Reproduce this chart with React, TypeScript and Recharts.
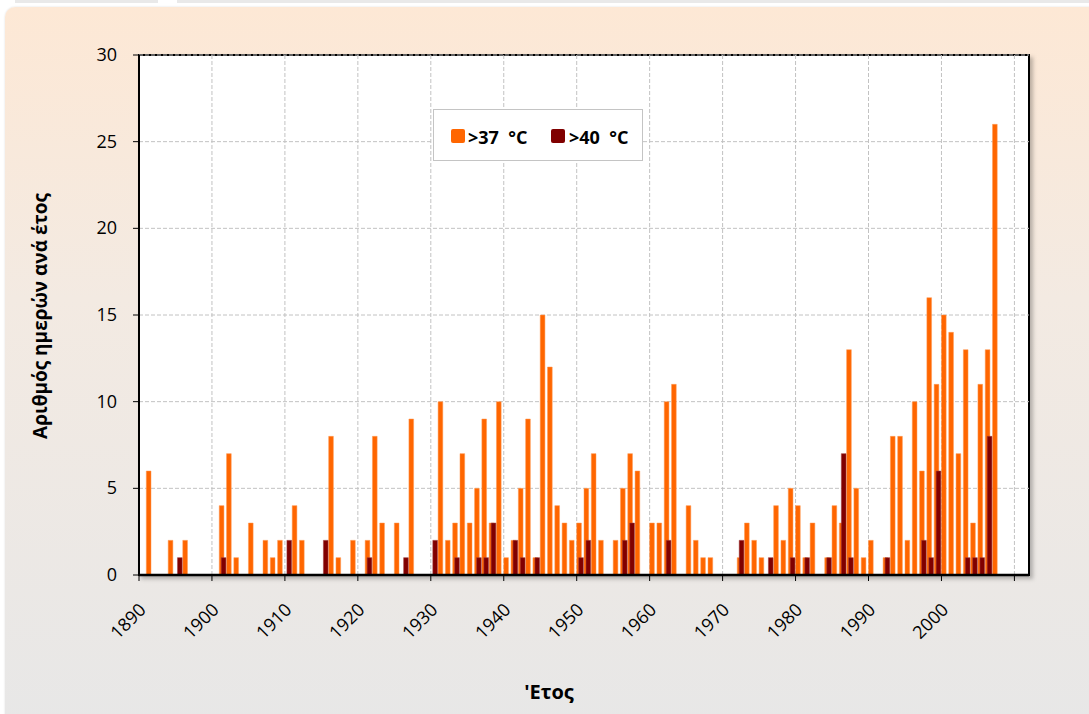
import React from 'react';
import { BarChart, Bar, XAxis, YAxis, CartesianGrid, Legend, Label } from 'recharts';

const START_YEAR = 1890;

// Number of days per year with Tmax > 37 °C (1890 ... 2011)
const over37: number[] = [
  0, 6, 0, 0, 2, 0, 2, 0, 0, 0, // 1890s
  0, 4, 7, 1, 0, 3, 0, 2, 1, 2, // 1900s
  0, 4, 2, 0, 0, 0, 8, 1, 0, 2, // 1910s
  0, 2, 8, 3, 0, 3, 0, 9, 0, 0, // 1920s
  0, 10, 2, 3, 7, 3, 5, 9, 3, 10, // 1930s
  1, 2, 5, 9, 1, 15, 12, 4, 3, 2, // 1940s
  3, 5, 7, 2, 0, 2, 5, 7, 6, 0, // 1950s
  3, 3, 10, 11, 0, 4, 2, 1, 1, 0, // 1960s
  0, 0, 1, 3, 2, 1, 0, 4, 2, 5, // 1970s
  4, 1, 3, 0, 1, 4, 3, 13, 5, 1, // 1980s
  2, 0, 1, 8, 8, 2, 10, 6, 16, 11, // 1990s
  15, 14, 7, 13, 3, 11, 13, 26, 0, 0, // 2000s
  0, 0, // 2010s
];

// Number of days per year with Tmax > 40 °C (1890 ... 2011)
const over40: number[] = [
  0, 0, 0, 0, 0, 1, 0, 0, 0, 0,
  0, 1, 0, 0, 0, 0, 0, 0, 0, 0,
  2, 0, 0, 0, 0, 2, 0, 0, 0, 0,
  0, 1, 0, 0, 0, 0, 1, 0, 0, 0,
  2, 0, 0, 1, 0, 0, 1, 1, 3, 0,
  0, 2, 1, 0, 1, 0, 0, 0, 0, 0,
  1, 2, 0, 0, 0, 0, 2, 3, 0, 0,
  0, 0, 2, 0, 0, 0, 0, 0, 0, 0,
  0, 0, 2, 0, 0, 0, 1, 0, 0, 1,
  0, 1, 0, 0, 1, 0, 7, 1, 0, 0,
  0, 0, 1, 0, 0, 0, 0, 2, 1, 6,
  0, 0, 0, 1, 1, 1, 8, 0, 0, 0,
  0, 0,
];

// tick marks / grid lines every decade; labels only up to 2000 (as in the original)
const yearTicks = [1890, 1900, 1910, 1920, 1930, 1940, 1950, 1960, 1970, 1980, 1990, 2000, 2010];
const yearLabels = [1890, 1900, 1910, 1920, 1930, 1940, 1950, 1960, 1970, 1980, 1990, 2000];
const yTicks = [0, 5, 10, 15, 20, 25, 30];
const yDomain: [number, number] = [0, 30];

const name37 = '>37  °C';
const name40 = '>40  °C';
const yTitle = 'Αριθμός ημερών ανά έτος';
const xTitle = "'Ετος";

const data = over37.map((v, i) => ({ year: START_YEAR + i, d37: v, d40: over40[i] }));

const FONT = '"Open Sans", "Noto Sans", sans-serif';

// Excel-style category axis: tick marks and labels sit on the boundary between categories
const XTick = (props: any) => {
  const { x, y, payload } = props;
  const bx = x - (payload.offset || 0);
  const ax = bx + 8;
  const ay = y + 28;
  const showLabel = yearLabels.indexOf(payload.value) >= 0;
  return (
    <g>
      <line x1={bx} y1={y - 8} x2={bx} y2={y - 2} stroke="#000" strokeWidth={1} />
      {showLabel && (
        <text
          x={ax}
          y={ay}
          textAnchor="end"
          transform={`rotate(-45 ${ax} ${ay})`}
          fontSize={18}
          fontFamily={FONT}
          fill="#000"
        >
          {payload.value}
        </text>
      )}
    </g>
  );
};

const YTick = (props: any) => {
  const { x, y, payload } = props;
  return (
    <text x={x} y={y + 6} textAnchor="end" fontSize={18} fontFamily={FONT} fill="#000">
      {payload.value}
    </text>
  );
};

const XTitle = () => (
  <text x={549} y={699} textAnchor="middle" fontSize={20} fontWeight={700} fontFamily={FONT} fill="#000">
    {xTitle}
  </text>
);

const YTitle = () => (
  <text
    x={47}
    y={316}
    textAnchor="middle"
    transform="rotate(-90 47 316)"
    fontSize={19}
    fontWeight={700}
    fontFamily={FONT}
    fill="#000"
  >
    {yTitle}
  </text>
);

const LegendBox = (props: any) => {
  const payload = props.payload || [];
  return (
    <div
      style={{
        width: 210,
        height: 52,
        boxSizing: 'border-box',
        border: '1px solid #C4C4C4',
        background: '#fff',
        position: 'relative',
        fontFamily: FONT,
        fontWeight: 700,
        fontSize: 18,
        lineHeight: '24px',
        color: '#000',
      }}
    >
      {payload.map((p: any, i: number) => (
        <React.Fragment key={i}>
          <div
            style={{
              position: 'absolute',
              left: 17 + i * 100,
              top: 19,
              width: 14,
              height: 14,
              background: p.color,
              borderRadius: 2,
            }}
          />
          <div style={{ position: 'absolute', left: 34 + i * 101, top: 15, whiteSpace: 'pre' }}>{p.value}</div>
        </React.Fragment>
      ))}
    </div>
  );
};

// vertical grid lines on the category boundaries of the decade years
const gridX = (args: any) => {
  const s = args && args.xAxis && args.xAxis.scale;
  if (typeof s === 'function') {
    const out = yearTicks.map((t) => s(t));
    if (out.every((v) => typeof v === 'number' && isFinite(v))) return out;
  }
  const off = args.offset || {};
  const left = off.left ?? 139;
  const width = off.width ?? 890;
  const band = width / data.length;
  return yearTicks.map((t) => left + (t - START_YEAR) * band);
};

export default function App() {
  return (
    <div style={{ position: 'absolute', left: 0, top: 0, width: 1089, height: 714, overflow: 'hidden', background: '#fff' }}>
      <div style={{ position: 'absolute', left: 15, top: 0, width: 143, height: 3, background: '#E9E9E9' }} />
      <div style={{ position: 'absolute', left: 177, top: 0, width: 920, height: 3, background: '#E9E9E9' }} />
      <div
        style={{
          position: 'absolute',
          left: 5,
          top: 7,
          width: 1110,
          height: 730,
          borderRadius: 10,
          background: 'linear-gradient(to bottom, #FDE8D5 0%, #F3EAE2 40%, #E7E7E7 100%)',
          boxShadow: '0 0 2px rgba(0,0,0,0.15)',
        }}
      />
      <div
        style={{
          position: 'absolute',
          left: 138,
          top: 54,
          width: 892,
          height: 522,
          boxSizing: 'border-box',
          border: '2px solid #000',
          background: '#fff',
          boxShadow: '3px 3px 4px rgba(0,0,0,0.25)',
        }}
      />
      <div style={{ position: 'absolute', left: 0, top: 0 }}>
        <BarChart
          width={1089}
          height={714}
          data={data}
          margin={{ top: 55, right: 60, left: 0, bottom: 39 }}
          barGap={-2.7}
        >
          <CartesianGrid
            stroke="#C2C2C2"
            strokeDasharray="4 2"
            horizontalValues={yTicks}
            verticalCoordinatesGenerator={gridX}
          />
          <XAxis
            dataKey="year"
            type="category"
            ticks={yearTicks}
            interval={0}
            height={100}
            tickSize={6}
            tickMargin={2}
            tickLine={false}
            tick={<XTick />}
            axisLine={{ stroke: '#000', strokeWidth: 2.5 }}
            label={<Label content={<XTitle />} />}
          />
          <YAxis
            type="number"
            domain={yDomain}
            ticks={yTicks}
            interval={0}
            width={139}
            tickSize={6}
            tickMargin={16}
            tick={<YTick />}
            axisLine={{ stroke: '#000', strokeWidth: 2 }}
            tickLine={{ stroke: '#000', strokeWidth: 1 }}
            label={<Label content={<YTitle />} />}
          />
          <Legend
            layout="horizontal"
            verticalAlign="middle"
            align="center"
            wrapperStyle={{ left: 433, top: 109, width: 210, height: 52 }}
            content={<LegendBox />}
          />
          <Bar dataKey="d37" name={name37} fill="#FF6600" stroke="#FF9A55" strokeWidth={0.5} barSize={4.7} isAnimationActive={false} />
          <Bar dataKey="d40" name={name40} fill="#800000" stroke="#A04040" strokeWidth={0.5} barSize={4.7} isAnimationActive={false} />
        </BarChart>
      </div>
    </div>
  );
}
